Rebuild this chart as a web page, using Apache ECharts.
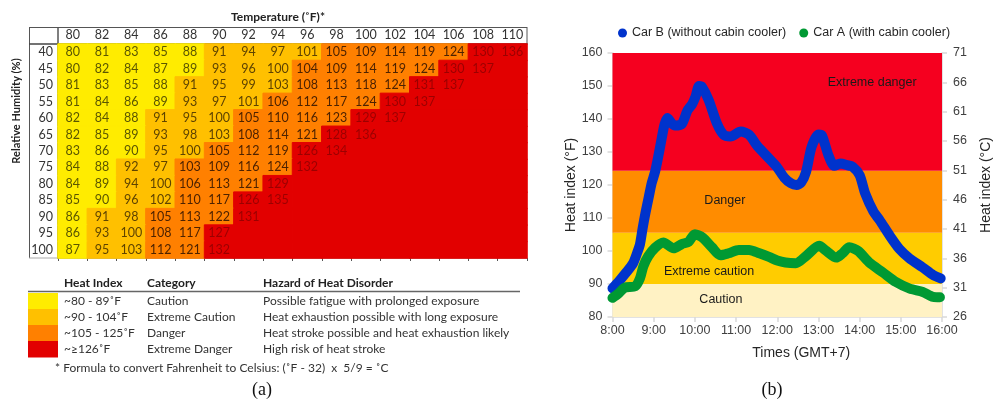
<!DOCTYPE html>
<html>
<head>
<meta charset="utf-8">
<script src="https://cdn.jsdelivr.net/npm/echarts@6/dist/echarts.min.js"></script>
<style>
html, body { margin: 0; padding: 0; background: #ffffff; }
#chart { width: 996px; height: 401px; }
</style>
</head>
<body>
<div id="chart"></div>
<script>
// ---------- (a) NWS heat index table ----------
const temperatures = ['80','82','84','86','88','90','92','94','96','98','100','102','104','106','108','110'];
const humidities = ['40','45','50','55','60','65','70','75','80','85','90','95','100'];
const heatIndexRows = [
  [80,81,83,85,88,91,94,97,101,105,109,114,119,124,130,136],
  [80,82,84,87,89,93,96,100,104,109,114,119,124,130,137],
  [81,83,85,88,91,95,99,103,108,113,118,124,131,137],
  [81,84,86,89,93,97,101,106,112,117,124,130,137],
  [82,84,88,91,95,100,105,110,116,123,129,137],
  [82,85,89,93,98,103,108,114,121,128,136],
  [83,86,90,95,100,105,112,119,126,134],
  [84,88,92,97,103,109,116,124,132],
  [84,89,94,100,106,113,121,129],
  [85,90,96,102,110,117,126,135],
  [86,91,98,105,113,122,131],
  [86,93,100,108,117,127],
  [87,95,103,112,121,132]
];
// column index at which each humidity row enters the next category
const extremeCautionFrom = [5,5,4,4,3,3,3,2,2,2,1,1,1];
const dangerFrom         = [9,8,8,7,6,6,5,4,4,4,3,3,3];
const extremeDangerFrom  = [14,13,12,11,10,9,8,8,7,6,6,5,5];

const legendRanges = ['~80 - 89˚F', '~90 - 104˚F', '~105 - 125˚F', '~≥126˚F'];
const legendCategories = ['Caution', 'Extreme Caution', 'Danger', 'Extreme Danger'];
const legendHazards = [
  'Possible fatigue with prolonged exposure',
  'Heat exhaustion possible with long exposure',
  'Heat stroke possible and heat exhaustion likely',
  'High risk of heat stroke'
];

// ---------- (b) cabin heat index measurements ----------
const carBTimes = ['8:00','8:10','8:20','8:30','8:36','8:40','8:44','8:48','8:53','8:57','9:02','9:07','9:12','9:16','9:20','9:25','9:31','9:41','9:49','9:56','10:01','10:06','10:10','10:20','10:32','10:42','10:52','11:07','11:19','11:31','11:50','12:00','12:10','12:20','12:28','12:35','12:42','12:50','13:00','13:05','13:10','13:15','13:23','13:32','13:42','13:50','14:00','14:08','14:20','14:29','14:44','14:58','15:13','15:32','15:47','15:58'];
const carBHeatIndex = [88.7,91,93.5,96.3,99.5,102,107,111.5,116.5,120.5,124,129,134.5,138.5,140.3,139,138,138.5,142.5,144.5,146.8,150,149.8,145.8,138.7,135.2,134.7,136.2,135.2,131.8,127.6,125.3,122.3,120.5,120,120.8,124,131.5,135.3,135,132,128.8,125.8,126.5,126,125.5,123,117.5,112,109.4,104.6,100.6,97.7,95,92.7,91.7];

const carATimes = ['8:00','8:08','8:18','8:33','8:40','8:45','8:52','9:02','9:14','9:29','9:41','9:51','10:00','10:11','10:25','10:37','10:49','11:04','11:19','11:34','11:48','12:00','12:12','12:27','12:42','13:01','13:11','13:26','13:35','13:45','13:58','14:14','14:34','14:53','15:13','15:32','15:47','15:57'];
const carAHeatIndex = [85.8,87,88.9,89.3,91.7,95.4,98.4,101,102.6,100.8,102.1,102.8,105.1,104.1,101.1,98.7,99.3,100.3,100.3,99.3,98.2,97.1,96.5,96.3,98.5,101.6,100.1,98,99.3,101.1,100,96.5,93.5,90.6,88.6,87.6,86.1,86];

const bandNames = ['Caution', 'Extreme caution', 'Danger', 'Extreme danger'];
const bandLimitsF = [80, 90, 105.5, 124.3, 160];
const celsiusBase = 26;

// ---------- styling ----------
const tableColors = ['#FFEC00', '#FFC000', '#FF8000', '#E20000'];
const tableTextColors = ['#5b5600', '#5e4300', '#4d2200', '#9c0000'];
const bandColors = ['#FFF2C4', '#FFCC00', '#FF8C00', '#F5001F'];
const tableFont = 'Lato, "Open Sans", sans-serif';
const plotFont = '"Liberation Sans", Arial, sans-serif';

function toHours(t) {
  const p = t.split(':');
  return +p[0] + (+p[1]) / 60;
}

function bandOf(r, c) {
  if (c >= extremeDangerFrom[r]) return 3;
  if (c >= dangerFrom[r]) return 2;
  if (c >= extremeCautionFrom[r]) return 1;
  return 0;
}

const cells = [];
humidities.forEach((h, r) => {
  temperatures.forEach((t, c) => {
    const band = bandOf(r, c);
    const v = heatIndexRows[r][c];
    cells.push({
      value: [c, r, band],
      hi: v === undefined ? null : v,
      label: { color: tableTextColors[band] },
      // same-colour outline closes hairline seams between neighbouring cells
      itemStyle: { borderColor: tableColors[band], borderWidth: 1 }
    });
  });
});

// legend table of part (a)
const graphics = [];
const line = (x1, y1, x2, y2, stroke, w) => ({
  type: 'line', silent: true,
  shape: { x1, y1, x2, y2 },
  style: { stroke, lineWidth: w }
});
const text = (x, y, s, opts) => ({
  type: 'text', silent: true, x, y,
  rotation: (opts && opts.rotation) || 0,
  style: Object.assign({
    text: s, fill: '#333',
    font: '12px ' + tableFont,
    align: 'left', verticalAlign: 'middle',
    textAlign: 'left', textVerticalAlign: 'middle'
  }, (opts && opts.style) || {})
});

// table frame
graphics.push(line(29, 27.5, 527, 27.5, '#555', 1));
graphics.push(line(527, 27, 527, 44, '#555', 1));
graphics.push(line(29.5, 27, 29.5, 258, '#555', 1));
graphics.push(line(58, 27, 58, 44, '#555', 1.5));
graphics.push(line(29, 44, 58, 44, '#444', 1.5));
graphics.push(line(29, 258, 58, 258, '#aaa', 1));

graphics.push(text(278, 17, 'Temperature (˚F)*', {
  style: { font: 'bold 12px ' + tableFont, align: 'center', textAlign: 'center', fill: '#222' }
}));
graphics.push(text(16, 111, 'Relative Humidity (%)', {
  rotation: Math.PI / 2,
  style: { font: 'bold 11px ' + tableFont, align: 'center', textAlign: 'center', fill: '#222' }
}));

// category legend
const legTop = 293, legRow = 16;
graphics.push(text(64, 283, 'Heat Index', { style: { font: 'bold 12px ' + tableFont, fill: '#222' } }));
graphics.push(text(147, 283, 'Category', { style: { font: 'bold 12px ' + tableFont, fill: '#222' } }));
graphics.push(text(263, 283, 'Hazard of Heat Disorder', { style: { font: 'bold 12px ' + tableFont, fill: '#222' } }));
graphics.push(line(28, 291.5, 520, 291.5, '#666', 1.5));
legendCategories.forEach((cat, i) => {
  const y = legTop + i * legRow;
  graphics.push({
    type: 'rect', silent: true,
    shape: { x: 28, y: y, width: 30, height: legRow + 0.5 },
    style: { fill: tableColors[i] }
  });
  graphics.push(text(64, y + legRow / 2, legendRanges[i]));
  graphics.push(text(147, y + legRow / 2, cat));
  graphics.push(text(263, y + legRow / 2, legendHazards[i]));
});
graphics.push(text(55, 368, '* Formula to convert Fahrenheit to Celsius: (˚F - 32)  x  5/9 = ˚C'));

// panel letters
graphics.push(text(262, 390, '(a)', {
  style: { font: '18px "Liberation Serif", "DejaVu Serif", serif', align: 'center', textAlign: 'center', fill: '#111' }
}));
graphics.push(text(772, 390, '(b)', {
  style: { font: '18px "Liberation Serif", "DejaVu Serif", serif', align: 'center', textAlign: 'center', fill: '#111' }
}));

const axisGray = '#d9d9d9';
const labelGray = '#404040';

const option = {
  animation: false,
  backgroundColor: '#ffffff',
  textStyle: { fontFamily: plotFont },
  grid: [
    { left: 58, top: 44, width: 469, height: 214 },
    { left: 612.5, right: 54, top: 53, bottom: 84 }
  ],
  legend: {
    data: ['Car B (without cabin cooler)', 'Car A (with cabin cooler)'],
    left: 618, top: 26, padding: 0,
    icon: 'circle', itemWidth: 9, itemHeight: 9, itemGap: 13,
    textStyle: { fontSize: 12.5, fontFamily: plotFont, color: '#262626', lineHeight: 14 }
  },
  visualMap: {
    type: 'piecewise', show: false, seriesIndex: 0, dimension: 2,
    pieces: tableColors.map((c, i) => ({ value: i, color: c }))
  },
  xAxis: [
    {
      gridIndex: 0, type: 'category', data: temperatures, position: 'top',
      axisLine: { lineStyle: { color: '#444', width: 1.5 } },
      axisTick: { show: false },
      axisLabel: { interval: 0, margin: 3, fontSize: 12.5, fontFamily: tableFont, color: '#333' },
      splitLine: { show: false }
    },
    {
      gridIndex: 0, type: 'category', data: temperatures, position: 'bottom',
      axisLine: { lineStyle: { color: '#aaa', width: 1 } },
      axisTick: { show: true, interval: 0, length: 3, lineStyle: { color: '#555' } },
      axisLabel: { show: false },
      splitLine: { show: false }
    },
    {
      gridIndex: 1, type: 'value', min: 8, max: 16, interval: 1,
      axisLine: { lineStyle: { color: axisGray, width: 1.5 } },
      axisTick: { show: true, length: 5, lineStyle: { color: axisGray, width: 1.5 } },
      axisLabel: { margin: 7, fontSize: 12.5, color: labelGray, formatter: v => v + ':00' },
      splitLine: { show: false },
      name: 'Times (GMT+7)', nameLocation: 'middle', nameGap: 29,
      nameTextStyle: { fontSize: 14, color: '#262626', padding: [0, 0, 0, 48] }
    }
  ],
  yAxis: [
    {
      gridIndex: 0, type: 'category', data: humidities, inverse: true,
      axisLine: { lineStyle: { color: '#444', width: 1.5 } },
      axisTick: { show: false },
      axisLabel: { interval: 0, margin: 5, fontSize: 12.5, fontFamily: tableFont, color: '#333' },
      splitLine: { show: false }
    },
    {
      gridIndex: 1, type: 'value', min: 80, max: 160, interval: 10, position: 'left',
      axisLine: { show: true, lineStyle: { color: axisGray, width: 1.5 } },
      axisTick: { show: true, length: 5, lineStyle: { color: axisGray, width: 1.5 } },
      axisLabel: { margin: 10, fontSize: 12.5, color: labelGray },
      splitLine: { show: false },
      name: 'Heat index (°F)', nameLocation: 'middle', nameRotate: 90, nameGap: 28,
      nameTextStyle: { fontSize: 14, color: '#262626' }
    },
    {
      gridIndex: 1, type: 'value', min: 0, max: 45, interval: 5, position: 'right',
      axisLine: { show: true, lineStyle: { color: axisGray, width: 1.5 } },
      axisTick: { show: true, length: 5, lineStyle: { color: axisGray, width: 1.5 } },
      axisLabel: { margin: 11, fontSize: 12.5, color: labelGray, formatter: v => String(v + celsiusBase) },
      splitLine: { show: false },
      name: 'Heat index (°C)', nameLocation: 'middle', nameRotate: 90, nameGap: 37,
      nameTextStyle: { fontSize: 14, color: '#262626' }
    }
  ],
  series: [
    {
      name: 'heat index table', type: 'heatmap',
      xAxisIndex: 0, yAxisIndex: 0,
      data: cells,
      label: {
        show: true, fontSize: 12.5, fontFamily: tableFont,
        formatter: p => (p.data.hi == null ? '' : String(p.data.hi))
      },
      emphasis: { disabled: true },
      silent: true
    },
    {
      name: 'bands', type: 'line', xAxisIndex: 2, yAxisIndex: 1, z: 1,
      data: [], silent: true,
      markArea: {
        silent: true,
        itemStyle: { opacity: 1 },
        label: { show: true, fontSize: 12.5, fontFamily: plotFont, color: '#1a1a1a',
                 align: 'center', verticalAlign: 'middle' },
        data: bandNames.map((name, i) => {
          const labelPos = [['32.9%', 16], ['29.3%', 39], ['34.1%', 30], ['78.8%', 30]][i];
          return [
            { yAxis: bandLimitsF[i], name: name, itemStyle: { color: bandColors[i] },
              label: { position: labelPos } },
            { yAxis: bandLimitsF[i + 1] }
          ];
        })
      }
    },
    {
      name: 'Car B (without cabin cooler)', type: 'line', xAxisIndex: 2, yAxisIndex: 1, z: 3,
      data: carBTimes.map((t, i) => [toHours(t), carBHeatIndex[i]]),
      showSymbol: false, smooth: 0.25, color: '#0033CC',
      lineStyle: { width: 10, color: '#0033CC', cap: 'round', join: 'round' }
    },
    {
      name: 'Car A (with cabin cooler)', type: 'line', xAxisIndex: 2, yAxisIndex: 1, z: 4,
      data: carATimes.map((t, i) => [toHours(t), carAHeatIndex[i]]),
      showSymbol: false, smooth: 0.25, color: '#009933',
      lineStyle: { width: 10, color: '#009933', cap: 'round', join: 'round' }
    }
  ],
  graphic: graphics
};

const chart = echarts.init(document.getElementById('chart'), null, { width: 996, height: 401 });
chart.setOption(option);
</script>
</body>
</html>
